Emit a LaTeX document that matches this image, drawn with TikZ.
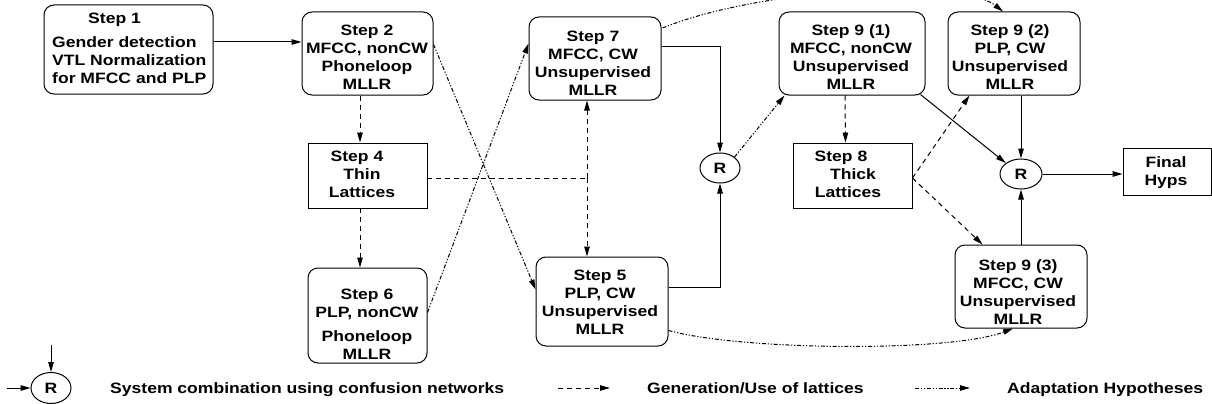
\documentclass[tikz,border=0pt]{standalone}
\usepackage{fontspec}
\setmainfont{Liberation Sans}[FakeStretch=1.17]
\usetikzlibrary{arrows.meta,calc,shapes.geometric}
\begin{document}
\begin{tikzpicture}[x=1pt,y=-1pt,
 box/.style={draw, line width=1pt, rounded corners=10pt, inner sep=0pt},
 sqbox/.style={draw, line width=0.9pt, inner sep=0pt},
 txt/.style={inner sep=0pt, align=center, font=\fontsize{15}{18}\selectfont\bfseries, anchor=north},
 lt/.style={inner sep=0pt, font=\fontsize{15}{18}\selectfont\bfseries, anchor=base west},
 comb/.style={draw, ellipse, line width=1pt, inner sep=0pt, font=\fontsize{15}{18}\selectfont\bfseries},
 conn/.style={line width=1pt, -{Triangle[length=10pt,width=5.5pt]}},
 latt/.style={conn, dash pattern=on 5pt off 4pt},
 adapt/.style={conn, dash pattern=on 4pt off 1.8pt on 1.2pt off 1.8pt on 1.2pt off 1.8pt},
 plainlatt/.style={line width=1pt, dash pattern=on 5pt off 4pt}]
\useasboundingbox (0,0) rectangle (1212,404);

% boxes
\node[box, minimum width=169pt, minimum height=89pt] (s1) at (128.5,49.5) {};
\node[box, minimum width=131pt, minimum height=83pt] (s2) at (367.5,53.5) {};
\node[sqbox, minimum width=119pt, minimum height=65pt] (s4) at (367.5,175.5) {};
\node[box, minimum width=119pt, minimum height=95pt] (s6) at (367.5,315.5) {};
\node[box, minimum width=132pt, minimum height=83pt] (s7) at (595,58.5) {};
\node[box, minimum width=132pt, minimum height=89pt] (s5) at (602,301.5) {};
\node[box, minimum width=146pt, minimum height=83pt] (s91) at (852,53.5) {};
\node[sqbox, minimum width=119pt, minimum height=65pt] (s8) at (852.5,175.5) {};
\node[box, minimum width=132pt, minimum height=83pt] (s92) at (1014,53.5) {};
\node[box, minimum width=132pt, minimum height=83pt] (s93) at (1021,286.5) {};
\node[sqbox, minimum width=88pt, minimum height=47pt] (fin) at (1167,171.5) {};
\node[comb, minimum width=40pt, minimum height=30pt] (r1) at (720,168) {R};
\node[comb, minimum width=42pt, minimum height=30pt] (r2) at (1021,174) {R};

% texts
\node[txt, align=left, anchor=north west] (t1) at (52,12.5) {\hspace*{36pt}Step 1\\[6pt]Gender detection\\VTL Normalization\\for MFCC and PLP};
\node[txt] (t2) at (367,24.5) {Step 2\\MFCC, nonCW\\Phoneloop\\MLLR};
\node[txt] (t4) at (362,150.5) {Step 4\hspace*{10pt}\\Thin\\Lattices};
\node[txt] (t6) at (367,288.5) {Step 6\\PLP, nonCW\\[6pt]Phoneloop\\MLLR};
\node[txt] (t7) at (593,30.5) {Step 7\\MFCC, CW\\Unsupervised\\MLLR};
\node[txt] (t5) at (600,269.5) {Step 5\\PLP, CW\\Unsupervised\\MLLR};
\node[txt] (t91) at (851,24.5) {Step 9 (1)\\MFCC, nonCW\\Unsupervised\\MLLR};
\node[txt] (t8) at (848,150.5) {Step 8\hspace*{14pt}\\\hspace*{10pt}Thick\\Lattices};
\node[txt] (t92) at (1010,24.5) {Step 9 (2)\\PLP, CW\hspace*{6pt}\\Unsupervised\\MLLR};
\node[txt] (t93) at (1018,259.5) {Step 9 (3)\\MFCC, CW\hspace*{14pt}\\Unsupervised\\MLLR};
\node[txt] (tf) at (1166,156.5) {Final\\Hyps};

% connectors
\path ($(s1.east)+(0,-7.5)$) coordinate (c12);
\draw[conn] (c12) -- (c12 -| s2.west);
\draw[latt] ([xshift=-7.5pt]s2.south) -- ([xshift=-7.5pt]s4.north);
\draw[latt] ([xshift=-7.5pt]s4.south) -- ([xshift=-7.5pt]s6.north);
\coordinate (j4) at (587,178);
\draw[plainlatt] (s4.east |- j4) -- (j4);
\draw[latt] (j4) -- (j4 |- s7.south);
\draw[latt] (j4) -- (j4 |- s5.north);
\draw[adapt] ($(s2.east)+(0,-9)$) -- ($(s5.west)+(0,-12)$);
\draw[adapt] ($(s6.east)+(0,-3)$) -- ($(s7.west)+(0,-15)$);
\draw[conn] ($(s7.east)+(0,-11.5)$) -| (r1.north);
\draw[conn] ($(s5.east)+(0,-14.5)$) -| (r1.south);
\draw[adapt] (r1.north east) -- ($(s91.south west)+(6,0)$);
\draw[adapt] ($(s7.east)+(1,-30.5)$) .. controls +(98,-40) and +(-43,-34) .. ($(s92.north)+(-11,0)$);
\draw[adapt] ($(s5.south east)+(0,-16)$) .. controls +(72,20) and +(-63,24) .. ($(s93.south)+(-8,0)$);
\draw[latt] ([xshift=-7pt]s91.south) -- ([xshift=-7pt]s8.north);
\draw[latt] ($(s8.east)+(0,2.5)$) -- ($(s92.south west)+(22,0)$);
\draw[latt] ($(s8.east)+(0,2.5)$) -- ($(s93.north west)+(28,0)$);
\draw[conn] ($(s91.south east)+(-5,-1)$) -- (r2.north west);
\draw[conn] (r2.north |- s92.south) -- (r2.north);
\draw[conn] (s93.north) -- (r2.south);
\draw[conn] (r2.east) -- (r2.east -| fin.west);

% legend
\node[comb, minimum width=40pt, minimum height=31pt] (lr) at (51,388) {R};
\coordinate (ld) at (51,345);
\coordinate (ll) at (7,388);
\draw[conn] (ld) -- (lr.north);
\draw[conn] (ll) -- (lr.west);
\node[lt] (lt1) at (110,393) {System combination using confusion networks};
\coordinate (la1) at (558,388);
\coordinate (lb1) at (610,388);
\draw[latt] (la1) -- (lb1);
\node[lt] (lt2) at (647,393) {Generation/Use of lattices};
\coordinate (la2) at (915,388);
\coordinate (lb2) at (970,388);
\draw[adapt] (la2) -- (lb2);
\node[lt] (lt3) at (1007,393) {Adaptation Hypotheses};
\end{tikzpicture}
\end{document}
